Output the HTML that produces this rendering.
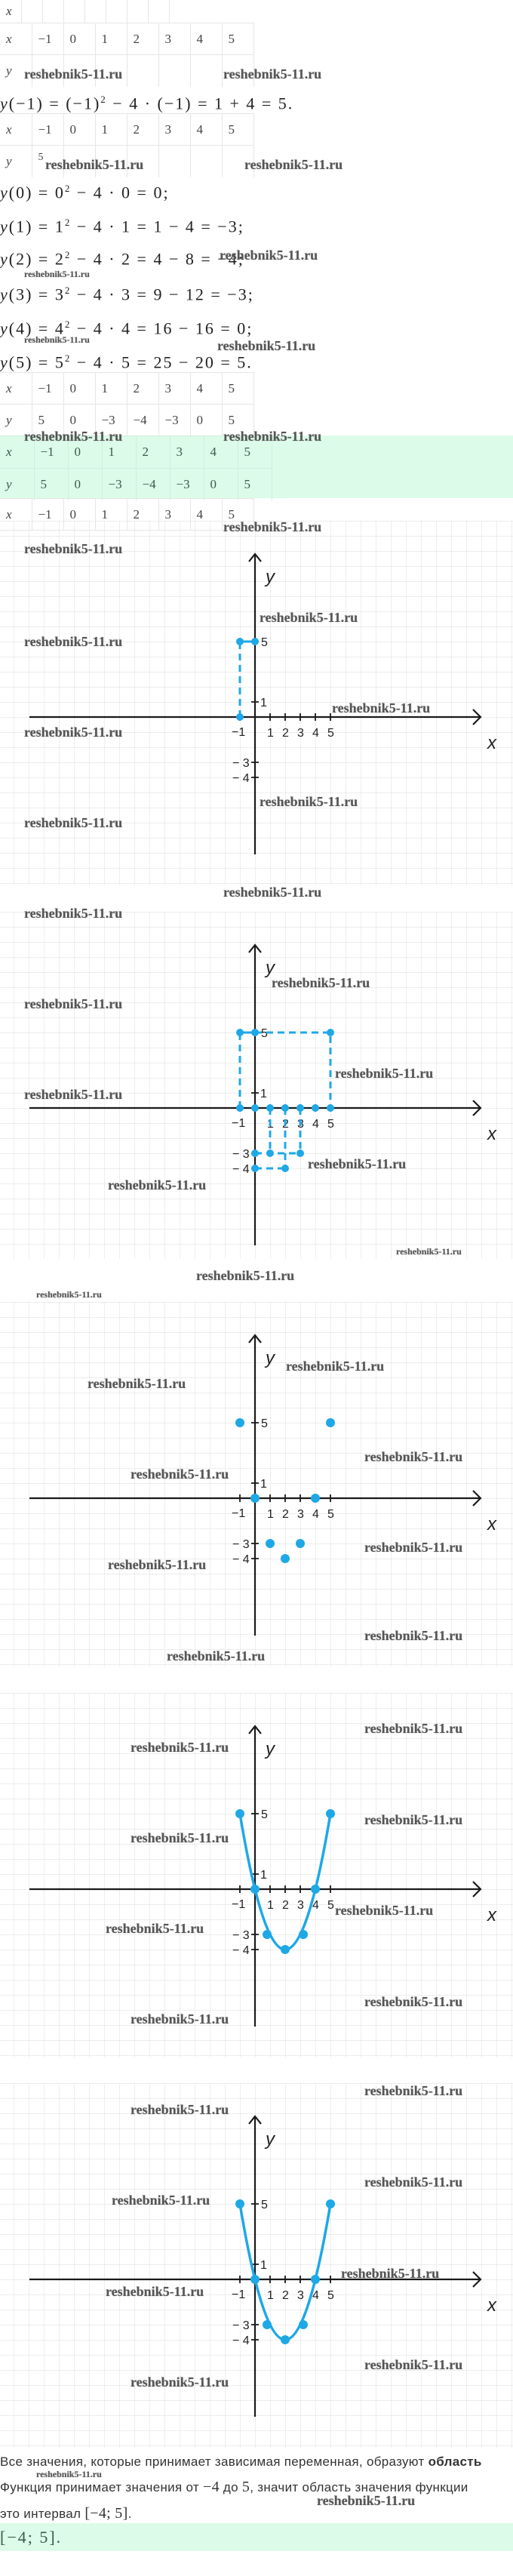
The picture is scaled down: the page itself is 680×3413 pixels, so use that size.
<!DOCTYPE html>
<html><head><meta charset="utf-8">
<style>
*{margin:0;padding:0;box-sizing:border-box}
body{width:680px;height:3413px;position:relative;background:#fff;overflow:hidden;font-family:"Liberation Serif",serif;color:#333}
.a{position:absolute}
table{border-collapse:collapse;position:absolute;left:0;font-family:"Liberation Serif",serif;font-size:17px;color:#444}
td{border:1px solid #e6e6e6;padding:0 0 0 8px;vertical-align:middle;white-space:nowrap}
td.v{font-style:italic}
.t42 td{width:42px;height:42px}
.t45 td{width:45px;height:42px;border-color:#cfeedd}
.eq{position:absolute;left:0;font-family:"Liberation Serif",serif;font-size:22px;letter-spacing:2px;color:#222;white-space:nowrap;line-height:24px}
.eq i{font-style:italic}
.wm{position:absolute;font-family:"Liberation Serif",serif;font-weight:bold;font-size:18px;color:#555;white-space:nowrap;line-height:22px;text-shadow:0 0 1px #999}
.ws{font-size:12px;line-height:14px}
.txt{position:absolute;left:0;font-family:"Liberation Sans",sans-serif;font-size:17px;letter-spacing:0.3px;color:#333;white-space:nowrap;line-height:20px}
.txt .m{font-family:"Liberation Serif",serif;font-size:20px}
</style></head><body>

<table style="top:0"><tr><td class="v" style="width:28px;height:30px;border-top:none;border-left:none">x</td><td style="width:28px;border-top:none"></td><td style="width:28px;border-top:none"></td><td style="width:28px;border-top:none"></td><td style="width:28px;border-top:none"></td><td style="width:28px;border-top:none"></td><td style="width:28px;border-top:none"></td><td style="width:28px;border-top:none"></td></tr></table>
<table class="t42" style="top:30px"><tr><td class="v" style="border-left:none">x</td><td>−1</td><td>0</td><td>1</td><td>2</td><td>3</td><td>4</td><td>5</td></tr><tr><td class="v" style="border-left:none;border-bottom:none">y</td><td style="border-bottom:none"></td><td style="border-bottom:none"></td><td style="border-bottom:none"></td><td style="border-bottom:none"></td><td style="border-bottom:none"></td><td style="border-bottom:none"></td><td style="border-bottom:none"></td></tr></table>
<div class="eq" style="top:120px"><i>y</i>(−1) = (−1)<sup style="font-size:13px">2</sup> − 4 · (−1) = 1 + 4 = 5.</div>
<table class="t42" style="top:150px"><tr><td class="v" style="border-left:none">x</td><td>−1</td><td>0</td><td>1</td><td>2</td><td>3</td><td>4</td><td>5</td></tr><tr><td class="v" style="border-left:none;border-bottom:none">y</td><td style="border-bottom:none;vertical-align:top;padding-top:8px;font-size:14px">5</td><td style="border-bottom:none"></td><td style="border-bottom:none"></td><td style="border-bottom:none"></td><td style="border-bottom:none"></td><td style="border-bottom:none"></td><td style="border-bottom:none"></td></tr></table>
<div class="eq" style="top:238px"><i>y</i>(0) = 0<sup style="font-size:13px">2</sup> − 4 · 0 = 0;</div>
<div class="eq" style="top:283px"><i>y</i>(1) = 1<sup style="font-size:13px">2</sup> − 4 · 1 = 1 − 4 = −3;</div>
<div class="eq" style="top:326px"><i>y</i>(2) = 2<sup style="font-size:13px">2</sup> − 4 · 2 = 4 − 8 = −4;</div>
<div class="eq" style="top:373px"><i>y</i>(3) = 3<sup style="font-size:13px">2</sup> − 4 · 3 = 9 − 12 = −3;</div>
<div class="eq" style="top:418px"><i>y</i>(4) = 4<sup style="font-size:13px">2</sup> − 4 · 4 = 16 − 16 = 0;</div>
<div class="eq" style="top:463px"><i>y</i>(5) = 5<sup style="font-size:13px">2</sup> − 4 · 5 = 25 − 20 = 5.</div>
<table class="t42" style="top:493px"><tr><td class="v" style="border-left:none">x</td><td>−1</td><td>0</td><td>1</td><td>2</td><td>3</td><td>4</td><td>5</td></tr><tr><td class="v" style="border-left:none">y</td><td>5</td><td>0</td><td>−3</td><td>−4</td><td>−3</td><td>0</td><td>5</td></tr></table>
<div class="a" style="left:0;top:577px;width:680px;height:83px;background:#dcfbe9"></div>
<table class="t45" style="top:577px;color:#3d5a48"><tr><td class="v" style="border-left:none;height:43px">x</td><td>−1</td><td>0</td><td>1</td><td>2</td><td>3</td><td>4</td><td>5</td></tr><tr><td class="v" style="border-left:none;border-bottom:none;height:40px">y</td><td style="border-bottom:none">5</td><td style="border-bottom:none">0</td><td style="border-bottom:none">−3</td><td style="border-bottom:none">−4</td><td style="border-bottom:none">−3</td><td style="border-bottom:none">0</td><td style="border-bottom:none">5</td></tr></table>
<table class="t42" style="top:660px"><tr><td class="v" style="border-left:none;height:30px">x</td><td>−1</td><td>0</td><td>1</td><td>2</td><td>3</td><td>4</td><td>5</td></tr></table>

<svg class="a" style="left:0;top:0" width="680" height="3413" xmlns="http://www.w3.org/2000/svg">
<defs>
<pattern id="g" width="20" height="20" patternUnits="userSpaceOnUse"><path d="M0 0H20M0 0V20" stroke="#e2e2e2" stroke-width="1.2" fill="none"/></pattern>
</defs>
<g font-family="Liberation Sans, sans-serif" font-size="16" fill="#222">
<g transform="translate(338,950)">
<rect x="-338" y="-260" width="680" height="483" fill="url(#g)"/>
<g stroke="#1a1a1a" stroke-width="2.2" fill="none"><path d="M-299 0H299M289 -10L299 0L289 10M0 182V-216M-8 -206L0 -216L8 -206"/><path d="M-20 -5V5M20 -5V5M40 -5V5M60 -5V5M80 -5V5M100 -5V5M-5 -100H5M-5 -20H5M-5 60H5M-5 80H5" stroke-width="1.8"/></g>
<text x="-31" y="25">−1</text><text x="16" y="26">1</text><text x="36" y="26">2</text><text x="56" y="26">3</text><text x="76" y="26">4</text><text x="96" y="26">5</text>
<text x="8" y="-94">5</text><text x="7" y="-14">1</text><text x="-30" y="66">− 3</text><text x="-30" y="86">− 4</text>
<text x="308" y="42" font-size="24" font-style="italic">x</text><text x="14" y="-178" font-size="24" font-style="italic">y</text>
<g stroke="#1ea8e6" stroke-width="3" fill="none"><path d="M-20 0V-100" stroke-dasharray="9 6"/><path d="M-20 -100H0"/></g>
<g fill="#1ea8e6"><circle cx="-20" cy="0" r="5"/><circle cx="-20" cy="-100" r="5"/><circle cx="0" cy="-100" r="5"/></g>
</g>
<g transform="translate(338,1468)">
<rect x="-338" y="-260" width="680" height="460" fill="url(#g)"/>
<g stroke="#1a1a1a" stroke-width="2.2" fill="none"><path d="M-299 0H299M289 -10L299 0L289 10M0 182V-216M-8 -206L0 -216L8 -206"/><path d="M-20 -5V5M20 -5V5M40 -5V5M60 -5V5M80 -5V5M100 -5V5M-5 -100H5M-5 -20H5M-5 60H5M-5 80H5" stroke-width="1.8"/></g>
<text x="-31" y="25">−1</text><text x="16" y="26">1</text><text x="36" y="26">2</text><text x="56" y="26">3</text><text x="76" y="26">4</text><text x="96" y="26">5</text>
<text x="8" y="-94">5</text><text x="7" y="-14">1</text><text x="-30" y="66">− 3</text><text x="-30" y="86">− 4</text>
<text x="308" y="42" font-size="24" font-style="italic">x</text><text x="14" y="-178" font-size="24" font-style="italic">y</text>
<g stroke="#1ea8e6" stroke-width="3" fill="none" stroke-dasharray="9 6"><path d="M-20 0V-100M0 -100H100V0M20 0V60M40 0V80M60 0V60M0 60H60M0 80H40"/></g>
<path d="M-20 -100H0" stroke="#1ea8e6" stroke-width="3"/>
<g fill="#1ea8e6"><circle cx="-20" cy="-100" r="5"/><circle cx="0" cy="-100" r="5"/><circle cx="100" cy="-100" r="5"/><circle cx="-20" cy="0" r="5"/><circle cx="0" cy="0" r="5"/><circle cx="20" cy="0" r="5"/><circle cx="40" cy="0" r="5"/><circle cx="60" cy="0" r="5"/><circle cx="80" cy="0" r="5"/><circle cx="100" cy="0" r="5"/><circle cx="0" cy="60" r="5"/><circle cx="20" cy="60" r="5"/><circle cx="60" cy="60" r="5"/><circle cx="0" cy="80" r="5"/><circle cx="40" cy="80" r="5"/></g>
</g>
<g transform="translate(338,1985)">
<rect x="-338" y="-260" width="680" height="483" fill="url(#g)"/>
<g stroke="#1a1a1a" stroke-width="2.2" fill="none"><path d="M-299 0H299M289 -10L299 0L289 10M0 182V-216M-8 -206L0 -216L8 -206"/><path d="M-20 -5V5M20 -5V5M40 -5V5M60 -5V5M80 -5V5M100 -5V5M-5 -100H5M-5 -20H5M-5 60H5M-5 80H5" stroke-width="1.8"/></g>
<text x="-31" y="25">−1</text><text x="16" y="26">1</text><text x="36" y="26">2</text><text x="56" y="26">3</text><text x="76" y="26">4</text><text x="96" y="26">5</text>
<text x="8" y="-94">5</text><text x="7" y="-14">1</text><text x="-30" y="66">− 3</text><text x="-30" y="86">− 4</text>
<text x="308" y="42" font-size="24" font-style="italic">x</text><text x="14" y="-178" font-size="24" font-style="italic">y</text>
<g fill="#1ea8e6"><circle cx="-20" cy="-100" r="6"/><circle cx="0" cy="0" r="6"/><circle cx="20" cy="60" r="6"/><circle cx="40" cy="80" r="6"/><circle cx="60" cy="60" r="6"/><circle cx="80" cy="0" r="6"/><circle cx="100" cy="-100" r="6"/></g>
</g>
<g transform="translate(338,2503)">
<rect x="-338" y="-260" width="680" height="483" fill="url(#g)"/>
<g stroke="#1a1a1a" stroke-width="2.2" fill="none"><path d="M-299 0H299M289 -10L299 0L289 10M0 182V-216M-8 -206L0 -216L8 -206"/><path d="M-20 -5V5M20 -5V5M40 -5V5M60 -5V5M80 -5V5M100 -5V5M-5 -100H5M-5 -20H5M-5 60H5M-5 80H5" stroke-width="1.8"/></g>
<text x="-31" y="25">−1</text><text x="16" y="26">1</text><text x="36" y="26">2</text><text x="56" y="26">3</text><text x="76" y="26">4</text><text x="96" y="26">5</text>
<text x="8" y="-94">5</text><text x="7" y="-14">1</text><text x="-30" y="66">− 3</text><text x="-30" y="86">− 4</text>
<text x="308" y="42" font-size="24" font-style="italic">x</text><text x="14" y="-178" font-size="24" font-style="italic">y</text>
<path d="M-20 -100Q40 260 100 -100" stroke="#1ea8e6" stroke-width="3.5" fill="none"/>
<g fill="#1ea8e6"><circle cx="-20" cy="-100" r="6"/><circle cx="0" cy="0" r="6"/><circle cx="16" cy="60" r="6"/><circle cx="40" cy="80" r="6"/><circle cx="64" cy="60" r="6"/><circle cx="80" cy="0" r="6"/><circle cx="100" cy="-100" r="6"/></g>
</g>
<g transform="translate(338,3020)">
<rect x="-338" y="-260" width="680" height="483" fill="url(#g)"/>
<g stroke="#1a1a1a" stroke-width="2.2" fill="none"><path d="M-299 0H299M289 -10L299 0L289 10M0 182V-216M-8 -206L0 -216L8 -206"/><path d="M-20 -5V5M20 -5V5M40 -5V5M60 -5V5M80 -5V5M100 -5V5M-5 -100H5M-5 -20H5M-5 60H5M-5 80H5" stroke-width="1.8"/></g>
<text x="-31" y="25">−1</text><text x="16" y="26">1</text><text x="36" y="26">2</text><text x="56" y="26">3</text><text x="76" y="26">4</text><text x="96" y="26">5</text>
<text x="8" y="-94">5</text><text x="7" y="-14">1</text><text x="-30" y="66">− 3</text><text x="-30" y="86">− 4</text>
<text x="308" y="42" font-size="24" font-style="italic">x</text><text x="14" y="-178" font-size="24" font-style="italic">y</text>
<path d="M-20 -100Q40 260 100 -100" stroke="#1ea8e6" stroke-width="3.5" fill="none"/>
<g fill="#1ea8e6"><circle cx="-20" cy="-100" r="6"/><circle cx="0" cy="0" r="6"/><circle cx="16" cy="60" r="6"/><circle cx="40" cy="80" r="6"/><circle cx="64" cy="60" r="6"/><circle cx="80" cy="0" r="6"/><circle cx="100" cy="-100" r="6"/></g>
</g>
</g>
</svg>

<div class="txt" style="top:3252px">Все значения, которые принимает зависимая переменная, образуют <b>область</b></div>
<div class="txt" style="top:3285px">Функция принимает значения от <span class="m">−4</span> до <span class="m">5</span>, значит область значения функции</div>
<div class="txt" style="top:3320px">это интервал <span class="m">[−4; 5]</span>.</div>
<div class="a" style="left:0;top:3343px;width:680px;height:37px;background:#dcfbe9"></div>
<div class="eq" style="top:3350px;color:#3d5a48">[−4; 5].</div>

<div class="wm" style="left:32px;top:87px">reshebnik5-11.ru</div>
<div class="wm" style="left:296px;top:87px">reshebnik5-11.ru</div>
<div class="wm" style="left:60px;top:207px">reshebnik5-11.ru</div>
<div class="wm" style="left:324px;top:207px">reshebnik5-11.ru</div>
<div class="wm" style="left:291px;top:327px">reshebnik5-11.ru</div>
<div class="wm ws" style="left:32px;top:356px">reshebnik5-11.ru</div>
<div class="wm ws" style="left:32px;top:443px">reshebnik5-11.ru</div>
<div class="wm" style="left:288px;top:447px">reshebnik5-11.ru</div>
<div class="wm" style="left:32px;top:567px">reshebnik5-11.ru</div>
<div class="wm" style="left:296px;top:567px">reshebnik5-11.ru</div>
<div class="wm" style="left:296px;top:687px">reshebnik5-11.ru</div>
<div class="wm" style="left:32px;top:716px">reshebnik5-11.ru</div>
<div class="wm" style="left:344px;top:807px">reshebnik5-11.ru</div>
<div class="wm" style="left:32px;top:839px">reshebnik5-11.ru</div>
<div class="wm" style="left:440px;top:927px">reshebnik5-11.ru</div>
<div class="wm" style="left:32px;top:959px">reshebnik5-11.ru</div>
<div class="wm" style="left:344px;top:1051px">reshebnik5-11.ru</div>
<div class="wm" style="left:32px;top:1079px">reshebnik5-11.ru</div>
<div class="wm" style="left:296px;top:1171px">reshebnik5-11.ru</div>
<div class="wm" style="left:32px;top:1199px">reshebnik5-11.ru</div>
<div class="wm" style="left:360px;top:1291px">reshebnik5-11.ru</div>
<div class="wm" style="left:32px;top:1319px">reshebnik5-11.ru</div>
<div class="wm" style="left:444px;top:1411px">reshebnik5-11.ru</div>
<div class="wm" style="left:32px;top:1439px">reshebnik5-11.ru</div>
<div class="wm" style="left:408px;top:1531px">reshebnik5-11.ru</div>
<div class="wm" style="left:143px;top:1559px">reshebnik5-11.ru</div>
<div class="wm ws" style="left:525px;top:1651px">reshebnik5-11.ru</div>
<div class="wm" style="left:260px;top:1679px">reshebnik5-11.ru</div>
<div class="wm ws" style="left:48px;top:1708px">reshebnik5-11.ru</div>
<div class="wm" style="left:379px;top:1799px">reshebnik5-11.ru</div>
<div class="wm" style="left:116px;top:1822px">reshebnik5-11.ru</div>
<div class="wm" style="left:483px;top:1919px">reshebnik5-11.ru</div>
<div class="wm" style="left:173px;top:1942px">reshebnik5-11.ru</div>
<div class="wm" style="left:483px;top:2039px">reshebnik5-11.ru</div>
<div class="wm" style="left:143px;top:2062px">reshebnik5-11.ru</div>
<div class="wm" style="left:483px;top:2156px">reshebnik5-11.ru</div>
<div class="wm" style="left:221px;top:2183px">reshebnik5-11.ru</div>
<div class="wm" style="left:483px;top:2279px">reshebnik5-11.ru</div>
<div class="wm" style="left:173px;top:2304px">reshebnik5-11.ru</div>
<div class="wm" style="left:483px;top:2400px">reshebnik5-11.ru</div>
<div class="wm" style="left:173px;top:2424px">reshebnik5-11.ru</div>
<div class="wm" style="left:444px;top:2520px">reshebnik5-11.ru</div>
<div class="wm" style="left:140px;top:2544px">reshebnik5-11.ru</div>
<div class="wm" style="left:483px;top:2641px">reshebnik5-11.ru</div>
<div class="wm" style="left:173px;top:2664px">reshebnik5-11.ru</div>
<div class="wm" style="left:483px;top:2759px">reshebnik5-11.ru</div>
<div class="wm" style="left:173px;top:2784px">reshebnik5-11.ru</div>
<div class="wm" style="left:483px;top:2880px">reshebnik5-11.ru</div>
<div class="wm" style="left:148px;top:2904px">reshebnik5-11.ru</div>
<div class="wm" style="left:452px;top:3001px">reshebnik5-11.ru</div>
<div class="wm" style="left:140px;top:3025px">reshebnik5-11.ru</div>
<div class="wm" style="left:483px;top:3122px">reshebnik5-11.ru</div>
<div class="wm" style="left:173px;top:3145px">reshebnik5-11.ru</div>
<div class="wm ws" style="left:48px;top:3271px">reshebnik5-11.ru</div>
<div class="wm" style="left:420px;top:3302px">reshebnik5-11.ru</div>
</body></html>
